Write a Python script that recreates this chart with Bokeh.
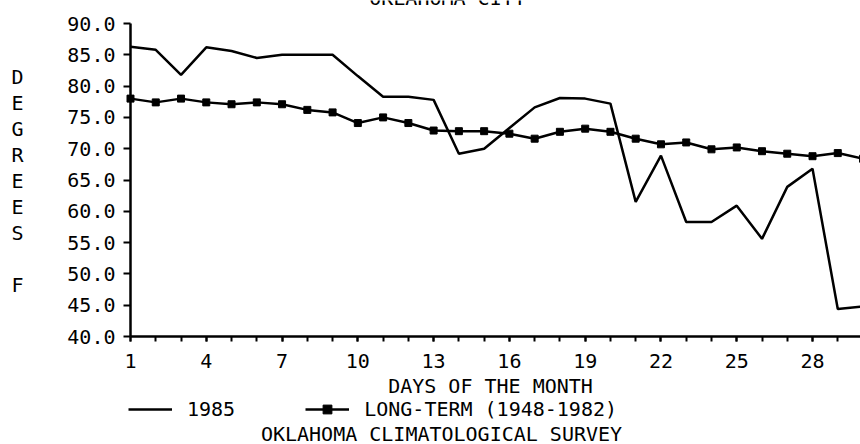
from bokeh.plotting import figure
from bokeh.models import (Range1d, FixedTicker, PrintfTickFormatter, Label,
                          Legend, LegendItem)
from bokeh.embed import file_html
from bokeh.resources import INLINE

# ---------------- data ----------------
days = list(range(1, 31))
t_1985 = [86.3, 85.8, 81.8, 86.2, 85.6, 84.5, 85.0, 85.0, 85.0, 81.6,
          78.3, 78.3, 77.8, 69.2, 70.0, 73.3, 76.6, 78.1, 78.0, 77.2,
          61.5, 68.9, 58.3, 58.3, 60.9, 55.6, 63.9, 66.8, 44.4, 44.8]
t_long = [78.0, 77.4, 78.0, 77.4, 77.1, 77.4, 77.1, 76.2, 75.8, 74.1,
          75.0, 74.1, 72.9, 72.8, 72.8, 72.4, 71.6, 72.7, 73.2, 72.7,
          71.6, 70.7, 71.0, 69.9, 70.2, 69.6, 69.2, 68.8, 69.3, 68.4]
x_ticks = [1, 4, 7, 10, 13, 16, 19, 22, 25, 28]
x_minor = list(range(1, 32))
y_ticks = [40, 45, 50, 55, 60, 65, 70, 75, 80, 85, 90]

title_text = "OKLAHOMA CITY"
xlabel_text = "DAYS OF THE MONTH"
ylabel_letters = ["D", "E", "G", "R", "E", "E", "S", "", "F"]
footer_text = "OKLAHOMA CLIMATOLOGICAL SURVEY"
series_names = ["1985", "LONG-TERM (1948-1982)"]

# ---------------- layout (pixel geometry of the page) ----------------
FONT = "DejaVu Sans Mono"
FS = "20px"
W, H = 860, 444
AX_LEFT, AX_TOP, AX_BOTTOM = 130, 23, 336      # where day 1 / 90 / 40 sit
PX_PER_DAY = 25.26
PX_PER_DEG = (AX_BOTTOM - AX_TOP) / 50.0
X_START = 1 - AX_LEFT / PX_PER_DAY
X_END = 1 + (W - AX_LEFT) / PX_PER_DAY
Y_TOP = 90 + AX_TOP / PX_PER_DEG
Y_BOT = 40 - (H - AX_BOTTOM) / PX_PER_DEG


def dx(px):
    return X_START + px / PX_PER_DAY


def dy(py):
    return Y_TOP - py / PX_PER_DEG


p = figure(width=W, height=H, x_range=Range1d(X_START, X_END),
           y_range=Range1d(Y_BOT, Y_TOP), title=None,
           output_backend="svg", toolbar_location=None,
           min_border=0, min_border_left=0, min_border_right=0,
           min_border_top=0, min_border_bottom=0)
p.outline_line_color = None
p.xgrid.visible = False
p.ygrid.visible = False
p.background_fill_color = "white"
p.border_fill_color = "white"

# axes, pinned inside the frame
xa = p.xaxis[0]
xa.fixed_location = 40
xa.bounds = (1, 31)
xa.ticker = FixedTicker(ticks=x_ticks, minor_ticks=x_minor)
xa.axis_line_width = 2.5
xa.axis_line_color = "black"
xa.major_tick_line_width = 2
xa.minor_tick_line_width = 2
xa.major_tick_out = 5
xa.major_tick_in = 0
xa.minor_tick_out = 5
xa.minor_tick_in = 0
xa.major_label_standoff = 12
xa.major_label_text_font = FONT
xa.major_label_text_font_size = FS
xa.major_label_text_color = "black"

ya = p.yaxis[0]
ya.fixed_location = 1
ya.bounds = (40, 90)
ya.ticker = FixedTicker(ticks=y_ticks, minor_ticks=[])
ya.formatter = PrintfTickFormatter(format="%.1f")
ya.axis_line_width = 2.5
ya.axis_line_color = "black"
ya.major_tick_line_width = 2
ya.major_tick_out = 7
ya.major_tick_in = 0
ya.minor_tick_out = 0
ya.minor_tick_in = 0
ya.major_label_standoff = 8
ya.major_label_text_font = FONT
ya.major_label_text_font_size = FS
ya.major_label_text_color = "black"

# series
r1 = p.line(days, t_1985, line_color="black", line_width=2.5)
r2 = p.line(days, t_long, line_color="black", line_width=2.5)
r3 = p.scatter(days, t_long, marker="square", size=7, fill_color="black",
               line_color="black")

# legend (inside the frame, below the axis)
leg = Legend(items=[LegendItem(label=series_names[0], renderers=[r1]),
                    LegendItem(label=series_names[1], renderers=[r2, r3])],
             location=(128, 23), orientation="horizontal",
             border_line_color=None, background_fill_alpha=0,
             padding=0, margin=0, spacing=70, glyph_width=44,
             glyph_height=22, label_height=22, label_standoff=15,
             label_text_font=FONT, label_text_font_size=FS,
             label_text_color="black")
p.add_layout(leg)


def add_label(text, px, py, align="center", baseline="middle"):
    p.add_layout(Label(x=dx(px), y=dy(py), text=text, text_align=align,
                       text_baseline=baseline, text_font=FONT,
                       text_font_size=FS, text_color="black"))


add_label(title_text, 447, -3, baseline="alphabetic")
add_label(xlabel_text, 490, 385)
add_label(footer_text, 441, 433)
for i, ch in enumerate(ylabel_letters):
    if ch:
        add_label(ch, 17, 76 + 26 * i)

open("out.html", "w").write(file_html(p, INLINE))
